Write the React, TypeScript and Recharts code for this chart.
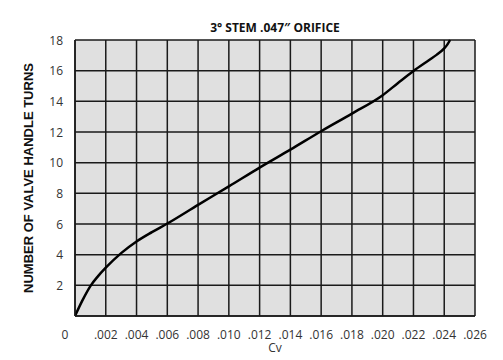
import React from 'react';
import { LineChart, Line, XAxis, YAxis, CartesianGrid } from 'recharts';

const cvValues = [0, 0.0005, 0.001, 0.0015, 0.002, 0.003, 0.004, 0.005, 0.006, 0.008, 0.010, 0.012, 0.014, 0.016, 0.018, 0.020, 0.021, 0.022, 0.023, 0.0235, 0.024, 0.0242, 0.02438];
const turnValues = [0, 1.05, 1.95, 2.6, 3.15, 4.1, 4.86, 5.47, 6.03, 7.25, 8.45, 9.68, 10.85, 12.05, 13.2, 14.4, 15.2, 15.98, 16.68, 17.03, 17.45, 17.7, 18];
const xTicks = [0, 0.002, 0.004, 0.006, 0.008, 0.010, 0.012, 0.014, 0.016, 0.018, 0.020, 0.022, 0.024, 0.026];
const xTickLabels = ['0', '.002', '.004', '.006', '.008', '.010', '.012', '.014', '.016', '.018', '.020', '.022', '.024', '.026'];
const yTicks = [0, 2, 4, 6, 8, 10, 12, 14, 16, 18];
const title = '3° STEM .047″ ORIFICE';
const xLabel = 'Cv';
const yLabel = 'NUMBER OF VALVE HANDLE TURNS';

const data = cvValues.map((cv, i) => ({ cv, turns: turnValues[i] }));

const tickFont = { fontFamily: '"Open Sans", sans-serif', fontSize: 12, fill: '#333' };

const XTick = (props: any) => {
  const { x, y, payload } = props;
  const v = payload.value;
  const idx = xTicks.indexOf(v);
  const label = idx >= 0 ? xTickLabels[idx] : String(v);
  return (
    <text x={v === 0 ? x - 10 : x} y={y + 10} textAnchor="middle" dominantBaseline="central" {...tickFont}>
      {label}
    </text>
  );
};

const YTick = (props: any) => {
  const { x, y, payload } = props;
  if (payload.value === 0) return <g />;
  return (
    <text x={x} y={y} textAnchor="end" dominantBaseline="central" {...tickFont}>
      {payload.value}
    </text>
  );
};

export default function App() {
  return (
    <div style={{ position: 'absolute', left: 0, top: 0, width: 503, height: 360, background: '#fff' }}>
      <LineChart width={503} height={360} data={data} margin={{ top: 40, right: 28, bottom: 14, left: 30 }}>
        <CartesianGrid
          stroke="#1a1a1a"
          strokeWidth={1.5}
          fill="#e0e0e0"
          fillOpacity={1}
          strokeDasharray=""
        />
        <XAxis
          dataKey="cv"
          type="number"
          domain={[0, 0.026]}
          ticks={xTicks}
          tick={<XTick />}
          tickLine={false}
          axisLine={{ stroke: '#1a1a1a', strokeWidth: 1.5 }}
          height={30}
          interval={0}
          allowDataOverflow
        />
        <YAxis
          type="number"
          domain={[0, 18]}
          ticks={yTicks}
          tick={<YTick />}
          tickLine={false}
          axisLine={{ stroke: '#1a1a1a', strokeWidth: 1.5 }}
          width={45}
          tickMargin={6}
          interval={0}
        />
        <Line
          dataKey="turns"
          type="monotone"
          stroke="#000"
          strokeWidth={2.5}
          dot={false}
          isAnimationActive={false}
        />
        <text x={275} y={27} textAnchor="middle" dominantBaseline="central" fontFamily='"Open Sans", sans-serif' fontWeight={700} fontSize={12} fill="#111">
          {title}
        </text>
        <text x={275} y={347} textAnchor="middle" dominantBaseline="central" {...tickFont}>
          {xLabel}
        </text>
        <text
          x={28}
          y={178}
          transform="rotate(-90 28 178)"
          textAnchor="middle"
          dominantBaseline="central"
          fontFamily='"Liberation Sans", Arial, sans-serif'
          fontWeight={700}
          fontSize={13}
          fill="#111"
        >
          {yLabel}
        </text>
      </LineChart>
    </div>
  );
}
